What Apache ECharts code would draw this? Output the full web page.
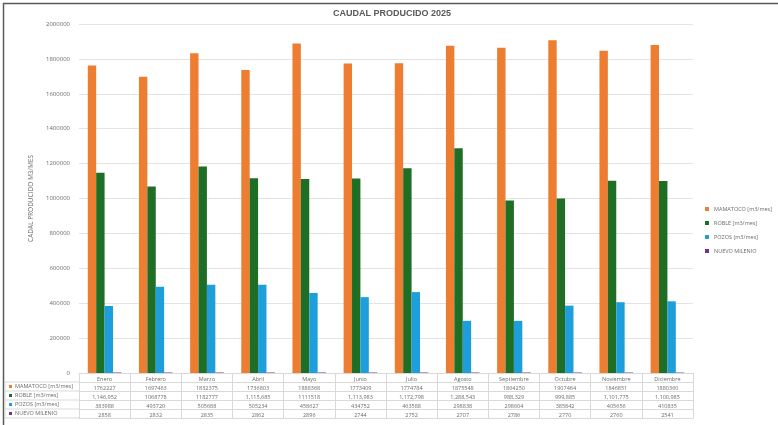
<!DOCTYPE html>
<html>
<head>
<meta charset="utf-8">
<script src="https://cdn.jsdelivr.net/npm/echarts@6/dist/echarts.min.js"></script>
<style>
  html, body { margin: 0; padding: 0; background: #fff; }
  #chart { width: 778px; height: 425px; }
</style>
</head>
<body>
<div id="chart"></div>
<script>
// datos
const meses = ['Enero', 'Febrero', 'Marzo', 'Abril', 'Mayo', 'Junio', 'Julio', 'Agosto', 'Septiembre', 'Octubre', 'Noviembre', 'Diciembre']
const nombres = ['MAMATOCO [m3/mes]', 'ROBLE [m3/mes]', 'POZOS [m3/mes]', 'NUEVO MILENIO']
const mamatoco = [1762227, 1697463, 1832375, 1736803, 1888368, 1773409, 1774784, 1875548, 1864250, 1907464, 1846851, 1880360]
const roble = [1146952, 1068778, 1182777, 1115685, 1111518, 1113983, 1172798, 1288543, 988329, 999885, 1101775, 1100985]
const pozos = [383988, 493720, 505688, 505234, 458627, 434752, 463588, 298838, 298604, 385842, 405656, 410835]
const nuevoMilenio = [2858, 2832, 2835, 2862, 2896, 2744, 2752, 2707, 2786, 2770, 2760, 2541]
// como aparece en la tabla (algunas celdas con separador de miles)
const robleTabla = ['1,146,952', '1068778', '1182777', '1,115,685', '1111518', '1,113,983', '1,172,798', '1,288,543', '988,329', '999,885', '1,101,775', '1,100,985']
const colores = ['#ED7D31', '#1F6E26', '#1E9FDC', '#7030A0']

const gLeft = 79
const gRight = 85
const gTop = 24
const gBottom = 52
const rowH = 9
const baseY = 425 - gBottom
const lineColor = '#d9d9d9'
const txtColor = '#6b6b6b'
const fuente = 'Open Sans'

const filas = [
  mamatoco.map(v => String(v)),
  robleTabla,
  pozos.map(v => String(v)),
  nuevoMilenio.map(v => String(v))
]

// ejes x extra para las filas de la tabla
const ejesTabla = filas.map((fila, i) => {
  return {
    type: 'category',
    gridIndex: 0,
    position: 'bottom',
    offset: rowH * (i + 1),
    data: fila,
    axisLine: { show: true, lineStyle: { color: lineColor, width: 1 } },
    axisTick: { show: false },
    axisLabel: { color: txtColor, fontSize: 5.5, fontFamily: fuente, margin: 3, interval: 0 }
  }
})
ejesTabla.push({
  type: 'category',
  gridIndex: 0,
  position: 'bottom',
  offset: rowH * 5,
  data: meses.map(() => ''),
  axisLine: { show: true, lineStyle: { color: lineColor, width: 1 } },
  axisTick: { show: false },
  axisLabel: { show: false }
})

// columna izquierda de la tabla
const columnaIzq = []
nombres.forEach((n, i) => {
  const y = baseY + rowH * (i + 1)
  columnaIzq.push({
    type: 'line',
    shape: { x1: 5, y1: y, x2: gLeft, y2: y },
    style: { stroke: lineColor, lineWidth: 1 }
  })
  columnaIzq.push({
    type: 'rect',
    shape: { x: 9, y: y + rowH / 2 - 1.5, width: 3, height: 3 },
    style: { fill: colores[i] }
  })
  columnaIzq.push({
    type: 'text',
    x: 15,
    y: y + rowH / 2,
    style: { text: n, fill: txtColor, fontSize: 5.5, fontFamily: fuente, verticalAlign: 'middle' }
  })
})
columnaIzq.push({
  type: 'line',
  shape: { x1: 5, y1: baseY + rowH * 5, x2: gLeft, y2: baseY + rowH * 5 },
  style: { stroke: lineColor, lineWidth: 1 }
})
columnaIzq.push({
  type: 'line',
  shape: { x1: 5, y1: baseY + rowH, x2: 5, y2: baseY + rowH * 5 },
  style: { stroke: lineColor, lineWidth: 1 }
})

const serie = (i, datos) => {
  return {
    name: nombres[i],
    type: 'bar',
    barWidth: 8.4,
    barGap: '0%',
    itemStyle: { color: colores[i] },
    data: datos
  }
}

const option = {
  backgroundColor: '#fff',
  animation: false,
  title: {
    text: 'CAUDAL PRODUCIDO 2025',
    left: 387,
    textAlign: 'center',
    top: 4,
    textStyle: { color: '#595959', fontSize: 9, fontWeight: 'bold', fontFamily: 'Liberation Sans' }
  },
  legend: {
    orient: 'vertical',
    left: 700,
    top: 201,
    itemWidth: 4,
    itemHeight: 4,
    itemGap: 8,
    icon: 'rect',
    textStyle: { color: txtColor, fontSize: 5.5, fontFamily: fuente },
    data: nombres
  },
  grid: { left: gLeft, right: gRight, top: gTop, bottom: gBottom, containLabel: false },
  xAxis: [
    {
      type: 'category',
      data: meses,
      axisLine: { show: true, lineStyle: { color: lineColor, width: 1 } },
      axisTick: { show: true, length: rowH * 5, alignWithLabel: false, lineStyle: { color: lineColor } },
      axisLabel: { color: txtColor, fontSize: 5.5, fontFamily: fuente, margin: 3, interval: 0 }
    },
    ...ejesTabla
  ],
  yAxis: {
    type: 'value',
    min: 0,
    max: 2000000,
    interval: 200000,
    name: 'CADAL PRODUCIDO M3/MES',
    nameLocation: 'middle',
    nameGap: 40,
    nameTextStyle: { color: txtColor, fontSize: 6.5, fontFamily: fuente },
    axisLine: { show: false },
    axisTick: { show: false },
    axisLabel: { color: txtColor, fontSize: 6, fontFamily: fuente, margin: 9, formatter: v => String(v) },
    splitLine: { lineStyle: { color: '#e3e3e3', width: 1 } }
  },
  graphic: [
    {
      type: 'line',
      shape: { x1: 3, y1: 3.5, x2: 778, y2: 3.5 },
      style: { stroke: '#5a5a5a', lineWidth: 1.5 }
    },
    {
      type: 'line',
      shape: { x1: 3.5, y1: 3, x2: 3.5, y2: 425 },
      style: { stroke: '#5a5a5a', lineWidth: 1.5 }
    },
    ...columnaIzq
  ],
  series: [
    serie(0, mamatoco),
    serie(1, roble),
    serie(2, pozos),
    serie(3, nuevoMilenio)
  ]
}

const chart = echarts.init(document.getElementById('chart'), null, { renderer: 'canvas' })
chart.setOption(option)
window.addEventListener('resize', () => {
  chart.resize()
})
</script>
</body>
</html>
